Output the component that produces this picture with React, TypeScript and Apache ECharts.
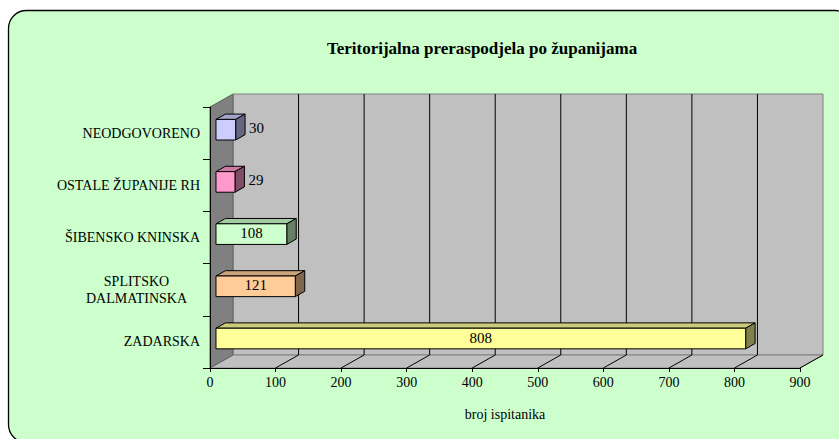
import React, { useEffect, useRef } from "react";
import * as echarts from "echarts";

const categories = [
  "ZADARSKA",
  "SPLITSKO DALMATINSKA",
  "ŠIBENSKO KNINSKA",
  "OSTALE ŽUPANIJE RH",
  "NEODGOVORENO",
];
const values = [808, 121, 108, 29, 30];
const barColors = ["#FFFF99", "#FFCC99", "#CCFFCC", "#FF99CC", "#CCCCFF"];
const xTicks = [0, 100, 200, 300, 400, 500, 600, 700, 800, 900];
const titleText = "Teritorijalna preraspodjela po županijama";
const xAxisName = "broj ispitanika";

const FONT = "'Liberation Serif', 'Times New Roman', serif";
const DEPTH_X = 23;
const DEPTH_Y = -13;
const BAR_F0 = 0.26;
const BAR_F1 = 0.67;

function shade(hex: string, f: number) {
  const n = parseInt(hex.slice(1), 16);
  const r = Math.round(((n >> 16) & 255) * f);
  const g = Math.round(((n >> 8) & 255) * f);
  const b = Math.round((n & 255) * f);
  return "rgb(" + r + "," + g + "," + b + ")";
}

export default function App() {
  const ref = useRef<HTMLDivElement>(null);
  useEffect(() => {
    document.body.style.margin = "0";
    const chart = echarts.init(ref.current!, null, { renderer: "svg" });
    const option: any = {
      animation: false,
      backgroundColor: "#ffffff",
      title: {
        text: titleText,
        left: 477,
        top: 35,
        textAlign: "center",
        textStyle: { fontFamily: FONT, fontSize: 17, fontWeight: "bold", color: "#000" },
      },
      graphic: [
        {
          type: "rect",
          z: -100,
          zlevel: 0,
          silent: true,
          shape: { x: 8.5, y: 10.5, width: 845, height: 432, r: 18 },
          style: { fill: "#CCFFCC", stroke: "#000000", lineWidth: 1.3 },
        },
      ],
      grid: { left: 210, top: 107, width: 590, height: 261, containLabel: false },
      xAxis: {
        type: "value",
        min: 0,
        max: 900,
        interval: 100,
        name: xAxisName,
        nameLocation: "middle",
        nameGap: 39,
        nameTextStyle: { fontFamily: FONT, fontSize: 14, color: "#000" },
        axisLine: { show: true, lineStyle: { color: "#000", width: 1 } },
        axisTick: { show: true, length: 4, lineStyle: { color: "#000" } },
        axisLabel: { fontFamily: FONT, fontSize: 14, color: "#000", margin: 7 },
        splitLine: { show: false },
      },
      yAxis: {
        type: "category",
        data: categories,
        axisLine: { show: true, lineStyle: { color: "#000", width: 1 } },
        axisTick: { show: true, length: 7, lineStyle: { color: "#000" } },
        axisLabel: {
          fontFamily: FONT,
          fontSize: 14,
          color: "#000",
          margin: 10,
          formatter: (v: string) =>
            v === "SPLITSKO DALMATINSKA" ? "{c|SPLITSKO}\n{c|DALMATINSKA}" : v,
          rich: {
            c: { width: 127, align: "center", fontFamily: FONT, fontSize: 14, lineHeight: 17, color: "#000" },
          },
        },
        splitLine: { show: false },
      },
      series: [
        {
          type: "custom",
          z: -1,
          silent: true,
          data: [[0, 0]],
          renderItem: (params: any, api: any) => {
            const cs = params.coordSys;
            const x0 = cs.x;
            const x1 = cs.x + cs.width;
            const y0 = cs.y;
            const y1 = cs.y + cs.height;
            const ch: any[] = [];
            ch.push({
              type: "polygon",
              shape: { points: [[x0 + DEPTH_X, y0 + DEPTH_Y], [x1 + DEPTH_X, y0 + DEPTH_Y], [x1 + DEPTH_X, y1 + DEPTH_Y], [x0 + DEPTH_X, y1 + DEPTH_Y]] },
              style: { fill: "#C0C0C0", stroke: "#808080", lineWidth: 1 },
            });
            ch.push({
              type: "polygon",
              shape: { points: [[x0, y1], [x1, y1], [x1 + DEPTH_X, y1 + DEPTH_Y], [x0 + DEPTH_X, y1 + DEPTH_Y]] },
              style: { fill: "#C0C0C0", stroke: "#808080", lineWidth: 1 },
            });
            ch.push({
              type: "polygon",
              shape: { points: [[x0, y0], [x0 + DEPTH_X, y0 + DEPTH_Y], [x0 + DEPTH_X, y1 + DEPTH_Y], [x0, y1]] },
              style: { fill: "#808080", stroke: "#606060", lineWidth: 1 },
            });
            xTicks.forEach((t) => {
              const px = api.coord([t, 0])[0];
              if (t > 0) {
                ch.push({
                  type: "line",
                  shape: { x1: px, y1: y1, x2: px + DEPTH_X, y2: y1 + DEPTH_Y },
                  style: { stroke: "#000", lineWidth: 1 },
                });
              }
              if (t > 0 && t < 900) {
                ch.push({
                  type: "line",
                  shape: { x1: px + DEPTH_X, y1: y0 + DEPTH_Y, x2: px + DEPTH_X, y2: y1 + DEPTH_Y },
                  style: { stroke: "#000", lineWidth: 1 },
                });
              }
            });
            return { type: "group", children: ch };
          },
        },
        {
          type: "custom",
          z: 3,
          data: values.map((v, i) => [v, i]),
          encode: { x: 0, y: 1 },
          renderItem: (params: any, api: any) => {
            const v = api.value(0);
            const idx = api.value(1);
            const band = api.size([0, 1])[1];
            const c0 = api.coord([0, idx]);
            const c1 = api.coord([v, idx]);
            const h = band * 0.395;
            const ox = DEPTH_X * BAR_F0;
            const oy = DEPTH_Y * BAR_F0;
            const bx = DEPTH_X * (BAR_F1 - BAR_F0);
            const by = DEPTH_Y * (BAR_F1 - BAR_F0);
            const xl = c0[0] + ox;
            const xr = c1[0] + ox;
            const yt = c0[1] + oy - h / 2;
            const yb = c0[1] + oy + h / 2;
            const col = barColors[idx];
            const ch: any[] = [
              {
                type: "polygon",
                shape: { points: [[xl, yt], [xr, yt], [xr + bx, yt + by], [xl + bx, yt + by]] },
                style: { fill: shade(col, 0.8), stroke: "#000", lineWidth: 1 },
              },
              {
                type: "polygon",
                shape: { points: [[xr, yt], [xr + bx, yt + by], [xr + bx, yb + by], [xr, yb]] },
                style: { fill: shade(col, 0.5), stroke: "#000", lineWidth: 1 },
              },
              {
                type: "rect",
                shape: { x: xl, y: yt, width: xr - xl, height: yb - yt },
                style: { fill: col, stroke: "#000", lineWidth: 1 },
              },
            ];
            const inside = xr - xl > 40;
            ch.push({
              type: "text",
              style: {
                text: String(v),
                x: inside ? (xl + xr) / 2 : xr + bx + 4,
                y: inside ? (yt + yb) / 2 - 1 : (yt + yb) / 2 - 2,
                align: inside ? "center" : "left",
                verticalAlign: "middle",
                fontFamily: FONT,
                fontSize: 15,
                fill: "#000",
              },
            });
            return { type: "group", children: ch };
          },
        },
      ],
    };
    chart.setOption(option);
    return () => chart.dispose();
  }, []);
  return (
    <div
      ref={ref}
      style={{ position: "absolute", left: 0, top: 0, width: 839, height: 439 }}
    />
  );
}
